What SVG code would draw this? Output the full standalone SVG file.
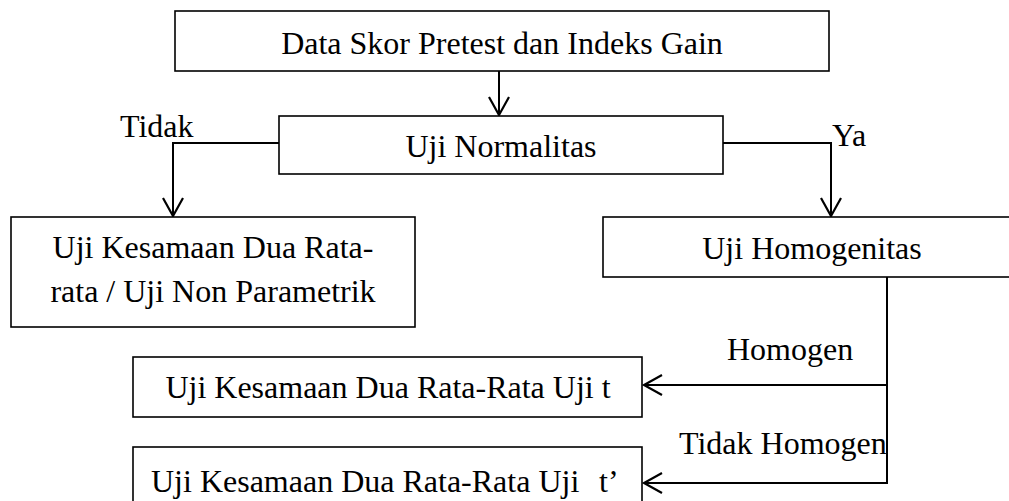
<svg xmlns="http://www.w3.org/2000/svg" width="1009" height="501" viewBox="0 0 1009 501">
<style>
  .box { fill: #ffffff; stroke: #000000; stroke-width: 1.6; }
  .t { font-family: "Liberation Serif", "Times New Roman", serif; font-size: 32px; fill: #000000; }
  .c { text-anchor: middle; }
  .ln { fill: none; stroke: #000000; stroke-width: 2; }
</style>
<defs>
  <marker id="arr" markerUnits="userSpaceOnUse" markerWidth="24" markerHeight="24" viewBox="0 0 24 24" refX="20" refY="12" orient="auto">
    <path d="M2,2 L20,12 L2,22" fill="none" stroke="#000" stroke-width="2.2"/>
  </marker>
</defs>
<rect width="1009" height="501" fill="#ffffff"/>
<g id="connectors">
  <line class="ln" x1="499" y1="71" x2="499" y2="115" marker-end="url(#arr)"/>
  <polyline class="ln" points="279,143 173,143 173,216" marker-end="url(#arr)"/>
  <polyline class="ln" points="723,143 831,143 831,216" marker-end="url(#arr)"/>
  <polyline class="ln" points="887,277 887,385 644,385" marker-end="url(#arr)"/>
  <polyline class="ln" points="887,385 887,483 644,483" marker-end="url(#arr)"/>
  <text class="t" x="120" y="137">Tidak</text>
  <text class="t" x="832" y="146">Ya</text>
  <text class="t" x="727" y="360">Homogen</text>
  <text class="t" x="679" y="454">Tidak Homogen</text>
</g>
<g id="n-data">
  <rect class="box" x="175" y="11" width="654" height="60"/>
  <text class="t c" x="502" y="54">Data Skor Pretest dan Indeks Gain</text>
</g>
<g id="n-normalitas">
  <rect class="box" x="279" y="116" width="444" height="58"/>
  <text class="t c" x="501" y="157">Uji Normalitas</text>
</g>
<g id="n-nonparam">
  <rect class="box" x="11" y="217" width="404" height="110"/>
  <text class="t c" x="213" y="258">Uji Kesamaan Dua Rata-</text>
  <text class="t c" x="213" y="302">rata / Uji Non Parametrik</text>
</g>
<g id="n-homogenitas">
  <rect class="box" x="603" y="217" width="410" height="60"/>
  <text class="t c" x="812" y="259">Uji Homogenitas</text>
</g>
<g id="n-ujit">
  <rect class="box" x="133" y="357" width="509" height="60"/>
  <text class="t c" x="388" y="398">Uji Kesamaan Dua Rata-Rata Uji t</text>
</g>
<g id="n-ujit2">
  <rect class="box" x="133" y="447" width="509" height="64"/>
  <text class="t" x="151" y="492">Uji Kesamaan Dua Rata-Rata Uji<tspan x="599">t’</tspan></text>
</g>
</svg>
